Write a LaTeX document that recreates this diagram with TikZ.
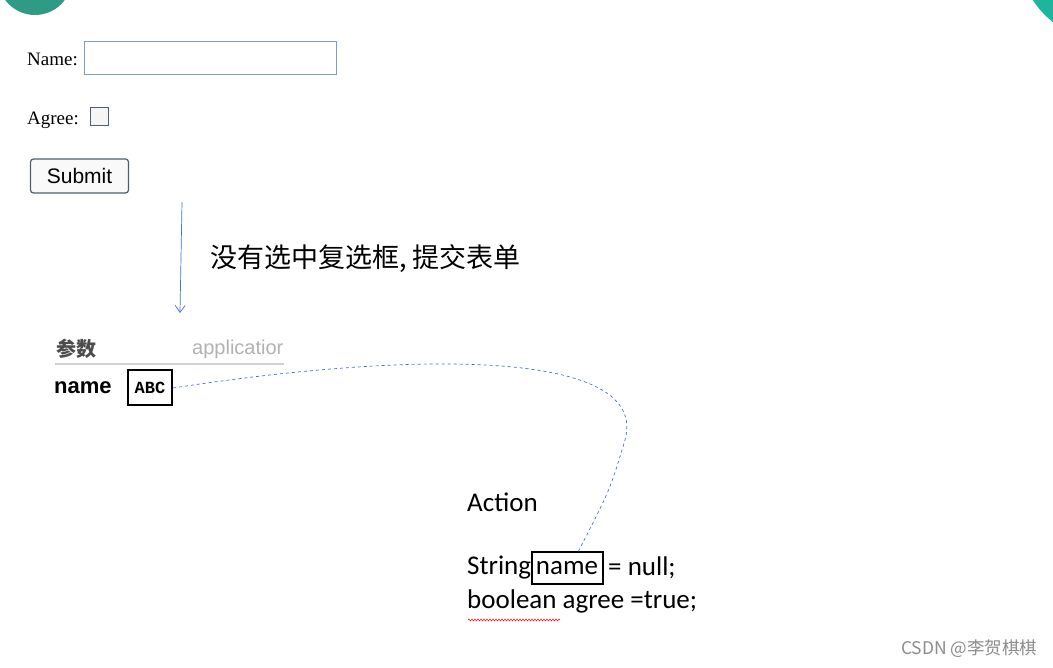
\documentclass[tikz,border=0pt]{standalone}
\usepackage{fontspec}
\setmainfont{Liberation Serif}
\newfontfamily\cjk{Noto Sans CJK SC}
\newfontfamily\lsans{Liberation Sans}
\newfontfamily\carl{Carlito}
\newfontfamily\lmono{Liberation Mono}
\usetikzlibrary{decorations.pathmorphing,arrows.meta}
\definecolor{teal1}{HTML}{2E9C85}
\definecolor{teal2}{HTML}{1FB59A}
\definecolor{fblue}{HTML}{7F9DB9}
\definecolor{lblue}{HTML}{4472C4}
\begin{document}
\begin{tikzpicture}[x=1pt,y=-1pt,
  lbl/.style={inner sep=0,anchor=west},
  big/.style={font=\carl\fontsize{27}{27}\selectfont},
  blk/.style={draw=black,line width=2pt,inner sep=0}]
\useasboundingbox (0,0) rectangle (1053,668);
\begin{scope}
\clip (0,0) rectangle (1053,668);
\fill[teal1] (35,-22) circle (37);
\fill[teal2] (1110,-50) circle (92);
\end{scope}
\node[lbl,font=\fontsize{19}{19}\selectfont] (nm) at (27,59) {Name:};
\node[draw=fblue,line width=1pt,minimum width=252,minimum height=33,inner sep=0,anchor=west] (nbox) at (84,58) {};
\node[lbl,font=\fontsize{19}{19}\selectfont] (ag) at (27,120) {Agree:};
\node[draw=fblue!60!black,line width=1pt,fill=gray!8,minimum size=18,inner sep=0] (cb) at (99,117) {};
\node[draw=fblue!60!black,line width=1.2pt,rounded corners=3pt,fill=gray!5,minimum width=98,minimum height=34,inner sep=0,font=\lsans\fontsize{21}{21}\selectfont] (sub) at (79.5,176) {Submit};
\coordinate (a1) at (182,202);
\coordinate (a2) at (180,313);
\draw[lblue,line width=0.7pt,-{Straight Barb[length=7pt,width=10pt]}] (a1) -- (a2);
\node[lbl,font=\cjk\fontsize{27}{27}\selectfont] (cn) at (210,259) {没有选中复选框, 提交表单};
\node[lbl,font=\cjk\bfseries\fontsize{20}{20}\selectfont,text=black!70] (cs) at (56,349) {参数};
\node[lbl,font=\lsans\fontsize{20}{20}\selectfont,text=black!30] (app) at (192,349) {applicatior};
\draw[black!18,line width=1.5pt] (55,364) -- (284,364);
\node[lbl,font=\lsans\bfseries\fontsize{22}{22}\selectfont] (pn) at (54,388) {name};
\node[blk,minimum width=44,minimum height=35,font=\lmono\bfseries\fontsize{17}{17}\selectfont] (abc) at (150,388) {ABC};
\node[lbl,big] (act) at (467,502) {Action};
\node[lbl,big] (s1) at (467,568) {String};
\node[blk,minimum width=71,minimum height=32,big] (nb) at (567,568) {name};
\node[lbl,big] (s1b) at (608,568) {= null;};
\node[lbl,big] (s2) at (467,601) {boolean agree =true;};
\draw[red,line width=0.5pt,decorate,decoration={snake,amplitude=1pt,segment length=3pt}] (468,620) -- (560,620);
\draw[lblue,dashed,line width=0.7pt] (abc.east) .. controls (420,350) and (650,350) .. (625,440) .. controls (610,490) .. (578,552);
\node[lbl,font=\cjk\fontsize{17.5}{17.5}\selectfont,text=black!45] (csdn) at (901,649) {CSDN @李贺棋棋};
\end{tikzpicture}
\end{document}
